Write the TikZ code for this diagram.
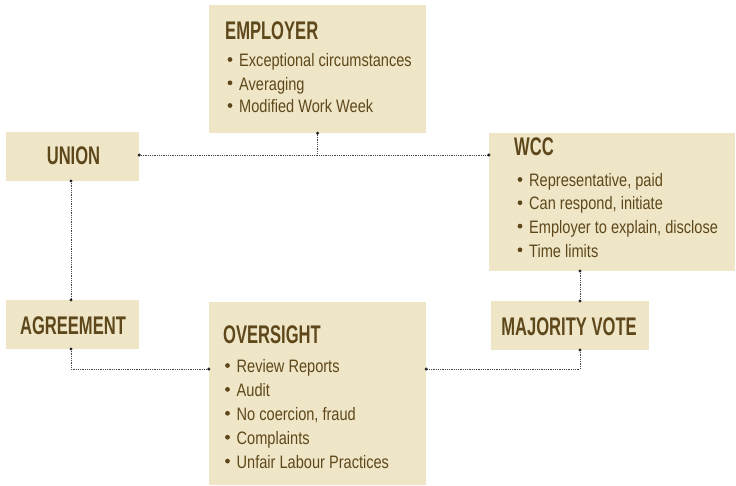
\documentclass[tikz,border=0pt]{standalone}
\usepackage{fontspec}
\setmainfont[FakeStretch=0.81]{Liberation Sans}
\newfontfamily\titlefont[FakeStretch=0.65]{Liberation Sans}
\definecolor{boxfill}{RGB}{239,230,199}
\definecolor{ink}{RGB}{94,72,27}
\definecolor{linkcol}{RGB}{70,70,70}
\begin{document}
\begin{tikzpicture}[x=1pt,y=-1pt,
  box/.style n args={2}{fill=boxfill,draw=none,inner sep=0pt,minimum width=#1pt,minimum height=#2pt},
  title/.style={font=\titlefont\bfseries\fontsize{25.5}{25.5}\selectfont,text=ink,inner sep=0pt},
  item/.style={font=\fontsize{18}{18}\selectfont,text=ink,inner sep=0pt,anchor=base west},
  link/.style={draw=linkcol,line width=0.8pt,dash pattern=on 0.9pt off 0.9pt},
  enddot/.style={fill=black!85}]
\useasboundingbox (0,0) rectangle (736,485);
% boxes
\node[box={217}{128}] (emp) at (317.5,69) {};
\node[box={133}{49}] (union) at (72.5,156.5) {};
\node[box={246}{138}] (wcc) at (612,201.5) {};
\node[box={133}{49}] (agr) at (72.5,324.5) {};
\node[box={217}{183}] (ovs) at (317.5,393.5) {};
\node[box={158}{49}] (maj) at (570,325.5) {};
% titles
\node[title,anchor=base west] (empT) at (225,39.3) {EMPLOYER};
\node[title,anchor=base] (unionT) at (73.5,164.3) {UNION};
\node[title,anchor=base west] (wccT) at (514,155) {WCC};
\node[title,anchor=base] (agrT) at (73,334.3) {AGREEMENT};
\node[title,anchor=base west] (ovsT) at (223,343) {OVERSIGHT};
\node[title,anchor=base] (majT) at (569,335) {MAJORITY VOTE};
% list items
\node[item] (e1) at (239,66.7) {Exceptional circumstances};
\node[item] (e2) at (239,90) {Averaging};
\node[item] (e3) at (239,112.7) {Modified Work Week};
\node[item] (w1) at (529,186.7) {Representative, paid};
\node[item] (w2) at (529,209.9) {Can respond, initiate};
\node[item] (w3) at (529,233.3) {Employer to explain, disclose};
\node[item] (w4) at (529,257) {Time limits};
\node[item] (o1) at (236.5,372.7) {Review Reports};
\node[item] (o2) at (236.5,396.6) {Audit};
\node[item] (o3) at (236.5,420.5) {No coercion, fraud};
\node[item] (o4) at (236.5,444.4) {Complaints};
\node[item] (o5) at (236.5,468.3) {Unfair Labour Practices};
% bullets
\foreach \n in {e1,e2,e3,w1,w2,w3,w4,o1,o2,o3,o4,o5}
  \fill[ink] ([xshift=-9pt,yshift=7.2pt]\n.base west) circle (2.4pt);
% connector anchors
\coordinate (jn) at (emp.south |- 0,155);
\coordinate (uE) at (union.east |- 0,155);
\coordinate (wW) at (wcc.west |- 0,155);
\coordinate (wS) at (580,271);
\coordinate (mN) at (580,301);
\coordinate (mS) at (580,350);
\coordinate (oL) at (ovs.west |- 0,369);
\coordinate (oR) at (ovs.east |- 0,369);
\coordinate (uS) at (71,181);
\coordinate (aN) at (71,300);
\coordinate (aS) at (71,349);
% connectors
\draw[link] (uE) -- (wW);
\draw[link] (emp.south) -- (jn);
\draw[link] (uS) -- (aN);
\draw[link] (aS) |- (oL);
\draw[link] (wS) -- (mN);
\draw[link] (mS) |- (oR);
\foreach \p in {uE,wW,emp.south,uS,aN,aS,oL,wS,mN,mS,oR}
  \fill[enddot] (\p) circle (1.7pt);
\end{tikzpicture}
\end{document}
